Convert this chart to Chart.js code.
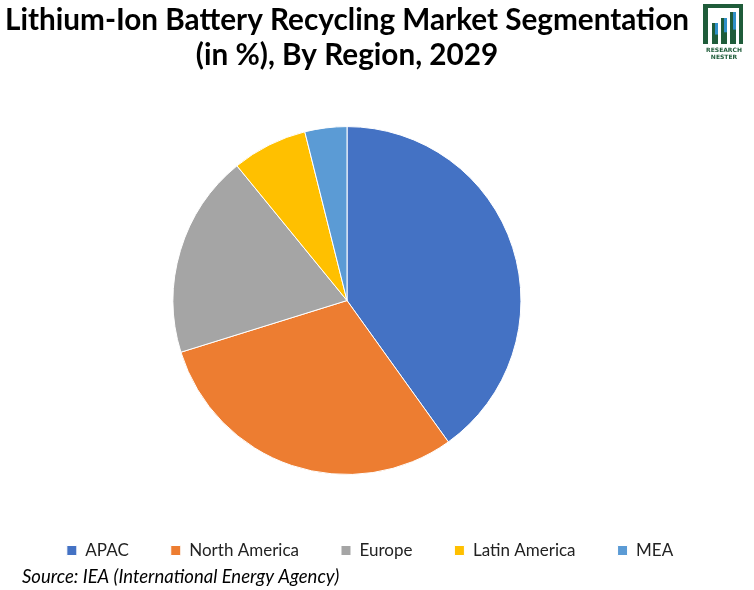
<!DOCTYPE html>
<html>
<head>
<meta charset="utf-8">
<script src="https://cdn.jsdelivr.net/npm/chart.js@4.4.1/dist/chart.umd.min.js"></script>
<style>
  html, body { margin: 0; padding: 0; background: #fff; }
  #wrap { width: 754px; height: 590px; }
</style>
</head>
<body>
<div id="wrap"><canvas id="regionChart" width="754" height="590"></canvas></div>
<script>
const regions = ['APAC', 'North America', 'Europe', 'Latin America', 'MEA'];
const shares = [40.1, 30.1, 18.9, 7.0, 3.9];
const sliceColors = ['#4472C4', '#ED7D31', '#A5A5A5', '#FFC000', '#5B9BD5'];
const titleLines = ['Lithium-Ion Battery Recycling Market Segmentation', '(in %), By Region, 2029'];
const sourceNote = 'Source: IEA (International Energy Agency)';

// legend sits a bit right of the pie centre in the original, so move it after layout
const legendNudge = {
    id: 'legendNudge',
    afterLayout(chart) {
        const lg = chart.legend;
        lg.left += 23; lg.right += 23;
        lg.top += 25; lg.bottom += 25;
    }
};

const extras = {
    id: 'extras',
    afterDraw(chart) {
        const ctx = chart.ctx;
        ctx.save();
        ctx.fillStyle = '#000';
        ctx.font = 'italic 18.5px Lato';
        ctx.textBaseline = 'alphabetic';
        ctx.textAlign = 'left';
        ctx.fillText(sourceNote, 22, 583);

        // little brand mark top right
        ctx.fillStyle = '#1f5c3a';
        ctx.fillRect(703, 4, 40, 40);
        ctx.fillStyle = '#fff';
        ctx.fillRect(708, 8, 31, 36);
        const bars = [[712, 23], [721, 18], [730, 12]];
        bars.forEach(([x, top]) => {
            ctx.fillStyle = '#1f5c3a';
            ctx.fillRect(x, top, 6, 44 - top);
            ctx.fillStyle = '#2f8fc8';
            ctx.fillRect(x + 3, top, 3, (44 - top) * 0.55);
        });
        ctx.fillStyle = '#1f5c3a';
        ctx.font = 'bold 6px "DejaVu Sans"';
        ctx.textAlign = 'center';
        ctx.fillText('RESEARCH', 724, 52);
        ctx.fillText('NESTER', 724, 59);
        ctx.restore();
    }
};

document.addEventListener('DOMContentLoaded', () => {
    const ctx = document.getElementById('regionChart').getContext('2d');
    new Chart(ctx, {
        type: 'pie',
        data: {
            labels: regions,
            datasets: [{
                data: shares,
                backgroundColor: sliceColors,
                borderColor: '#fff',
                borderWidth: 1
            }]
        },
        options: {
            responsive: false,
            animation: false,
            layout: { padding: { left: 0, right: 60, top: 0, bottom: 46 } },
            plugins: {
                title: {
                    display: true,
                    text: titleLines,
                    color: '#000',
                    font: { family: 'Lato', size: 29.7, weight: 'bold', lineHeight: 1.18 },
                    padding: { top: 3, bottom: 53 }
                },
                legend: {
                    position: 'bottom',
                    labels: {
                        color: '#222',
                        font: { family: 'Lato', size: 17 },
                        boxWidth: 10,
                        boxHeight: 10,
                        padding: 42
                    }
                },
                tooltip: { enabled: false }
            }
        },
        plugins: [legendNudge, extras]
    });
});
</script>
</body>
</html>
